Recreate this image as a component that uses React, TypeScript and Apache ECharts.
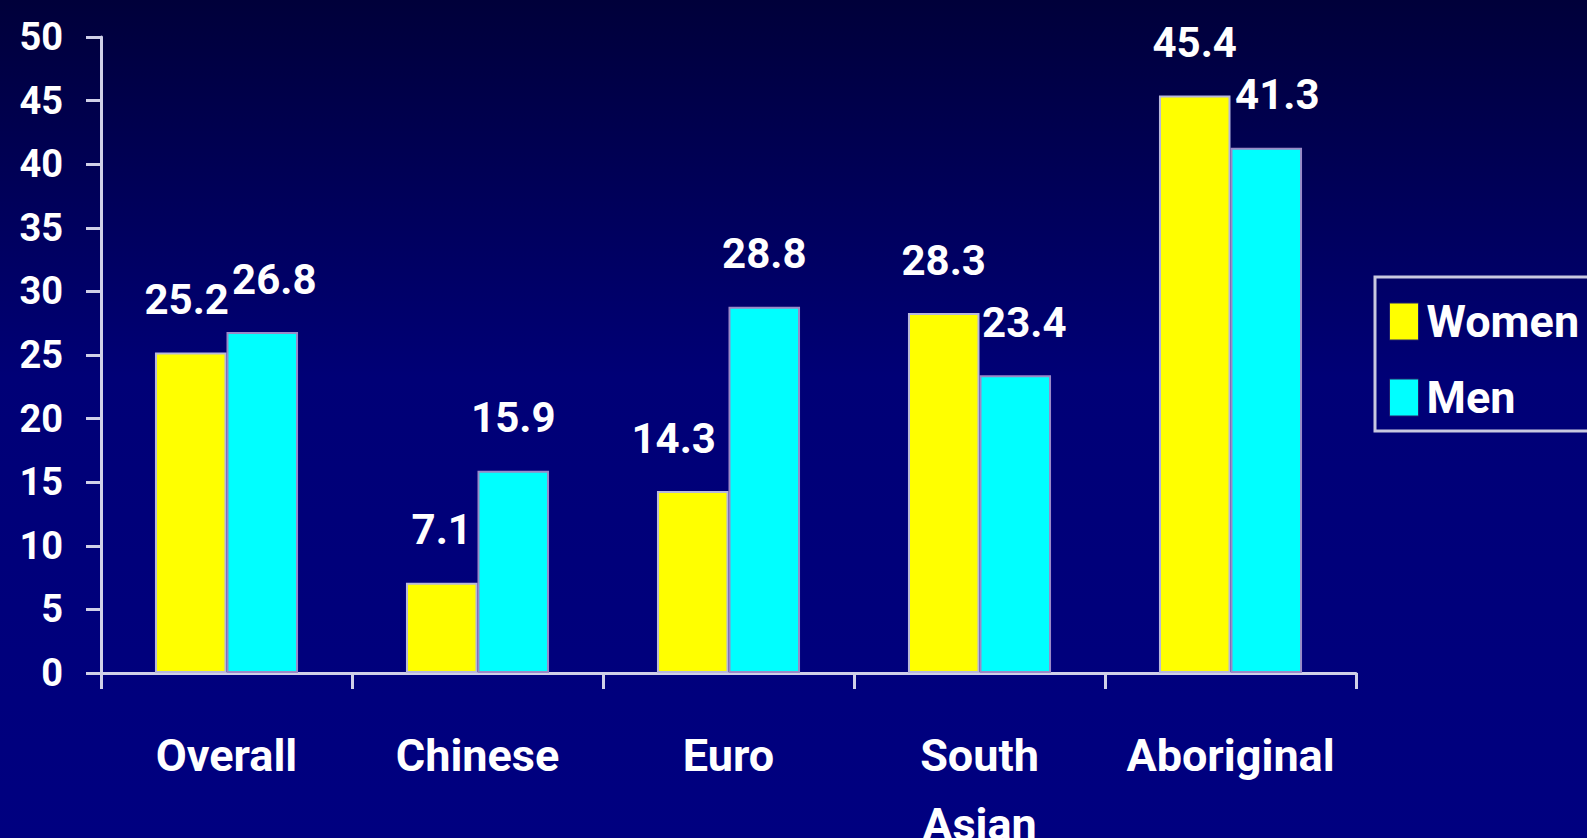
import React, { useEffect, useRef } from "react";
import * as echarts from "echarts";

const categories = ["Overall", "Chinese", "Euro", "South\nAsian", "Aboriginal"];
const women = [25.2, 7.1, 14.3, 28.3, 45.4];
const men = [26.8, 15.9, 28.8, 23.4, 41.3];
const seriesNames = ["Women", "Men"];
const yTicks = { min: 0, max: 50, interval: 5 };

// horizontal label nudges (style only), px
const womenLabelNudge = [-4, 0, -19, 0, 0];
const menLabelNudge = [12, 0, 0, 9, 11];

const FONT = 'Roboto, "Liberation Sans", sans-serif';
const AXIS_COLOR = "#d0d0e8";

export default function App() {
  const ref = useRef<HTMLDivElement>(null);
  useEffect(() => {
    if (!ref.current) return;
    const chart = echarts.init(ref.current, undefined, { renderer: "svg" });
    const labelStyle = {
      show: true,
      position: "top" as const,
      distance: 32,
      color: "#ffffff",
      fontFamily: FONT,
      fontWeight: "bold" as const,
      fontSize: 42,
    };
    const withNudge = (vals: number[], nudge: number[]) =>
      vals.map((v, i) => ({ value: v, label: { offset: [nudge[i], 0] } }));
    chart.setOption({
      animation: false,
      backgroundColor: {
        type: "linear",
        x: 0,
        y: 0,
        x2: 0,
        y2: 1,
        colorStops: [
          { offset: 0, color: "#00003a" },
          { offset: 0.45, color: "#000076" },
          { offset: 1, color: "#000080" },
        ],
      },
      grid: {
        left: 101,
        right: 231,
        top: 37,
        bottom: 165,
        containLabel: false,
        outerBoundsMode: "none",
      },
      legend: {
        orient: "vertical",
        left: 1375,
        top: 277,
        data: seriesNames,
        itemWidth: 29,
        itemHeight: 37,
        itemGap: 31,
        padding: [22, 40, 11, 14],
        borderColor: "#c8c8e0",
        borderWidth: 3,
        icon: "rect",
        itemStyle: { borderColor: "#202070", borderWidth: 1 },
        textStyle: {
          color: "#ffffff",
          fontFamily: FONT,
          fontWeight: "bold",
          fontSize: 45,
          lineHeight: 37,
          padding: [0, 0, 0, 3],
        },
      },
      xAxis: {
        type: "category",
        data: categories,
        axisLine: { lineStyle: { color: AXIS_COLOR, width: 3 } },
        axisTick: { show: true, length: 16, lineStyle: { color: AXIS_COLOR, width: 3 } },
        axisLabel: {
          color: "#ffffff",
          fontFamily: FONT,
          fontWeight: "bold",
          fontSize: 45,
          lineHeight: 69,
          margin: 48,
          interval: 0,
        },
      },
      yAxis: {
        type: "value",
        min: yTicks.min,
        max: yTicks.max,
        interval: yTicks.interval,
        splitLine: { show: false },
        axisLine: { show: true, lineStyle: { color: AXIS_COLOR, width: 3 } },
        axisTick: { show: true, length: 15, lineStyle: { color: AXIS_COLOR, width: 3 } },
        axisLabel: {
          color: "#ffffff",
          fontFamily: FONT,
          fontWeight: "bold",
          fontSize: 38,
          margin: 38,
        },
      },
      series: [
        {
          name: seriesNames[0],
          type: "bar",
          data: withNudge(women, womenLabelNudge),
          barGap: "0%",
          barCategoryGap: "43%",
          itemStyle: { color: "#ffff00", borderColor: "#b8b8dc", borderWidth: 2 },
          label: labelStyle,
        },
        {
          name: seriesNames[1],
          type: "bar",
          data: withNudge(men, menLabelNudge),
          barGap: "0%",
          barCategoryGap: "43%",
          itemStyle: { color: "#00ffff", borderColor: "#9a8ac8", borderWidth: 2 },
          label: labelStyle,
        },
      ],
    });
    return () => chart.dispose();
  }, []);
  return (
    <div
      ref={ref}
      style={{ position: "fixed", left: 0, top: 0, width: 1587, height: 838 }}
    />
  );
}
